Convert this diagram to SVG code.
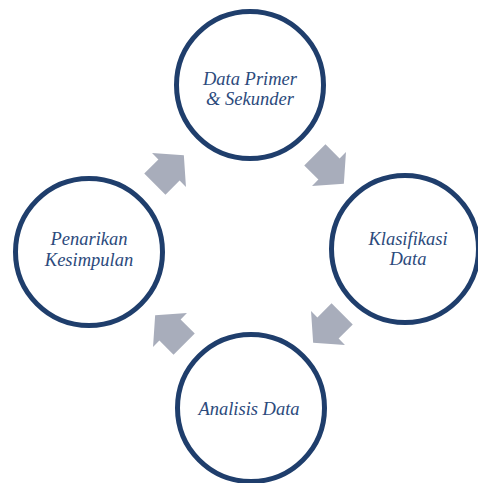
<svg xmlns="http://www.w3.org/2000/svg" width="478" height="483" viewBox="0 0 478 483">
<defs>
<style>
.node circle{fill:#ffffff;stroke:#1f3e6c;stroke-width:5}
.node text{font-family:"Liberation Serif","Times New Roman",serif;font-style:italic;font-size:18.5px;fill:#2c4a7c;text-anchor:middle}
.arrow{fill:#a8adbb}
</style>
<path id="blk" d="M-20,-15 L0,-15 L0,-24 L21,0 L0,24 L0,15 L-20,15 Z"/>
</defs>
<rect width="478" height="483" fill="#ffffff"/>
<g id="connectors">
<use href="#blk" class="arrow" transform="translate(169,170) rotate(-45)"/>
<use href="#blk" class="arrow" transform="translate(329,169) rotate(45)"/>
<use href="#blk" class="arrow" transform="translate(328,328) rotate(135)"/>
<use href="#blk" class="arrow" transform="translate(170,330) rotate(-135)"/>
</g>
<g id="node-data-primer" class="node">
<circle cx="250" cy="85" r="73.5"/>
<text x="250" y="84.5">Data Primer</text>
<text x="250" y="105">&amp; Sekunder</text>
</g>
<g id="node-klasifikasi" class="node">
<circle cx="405" cy="249" r="73.5"/>
<text x="408" y="244.5">Klasifikasi</text>
<text x="408" y="265">Data</text>
</g>
<g id="node-analisis" class="node">
<circle cx="251" cy="408" r="73.5"/>
<text x="249" y="415">Analisis Data</text>
</g>
<g id="node-penarikan" class="node">
<circle cx="89" cy="252" r="73.5"/>
<text x="89" y="245">Penarikan</text>
<text x="89" y="265.5">Kesimpulan</text>
</g>
</svg>
